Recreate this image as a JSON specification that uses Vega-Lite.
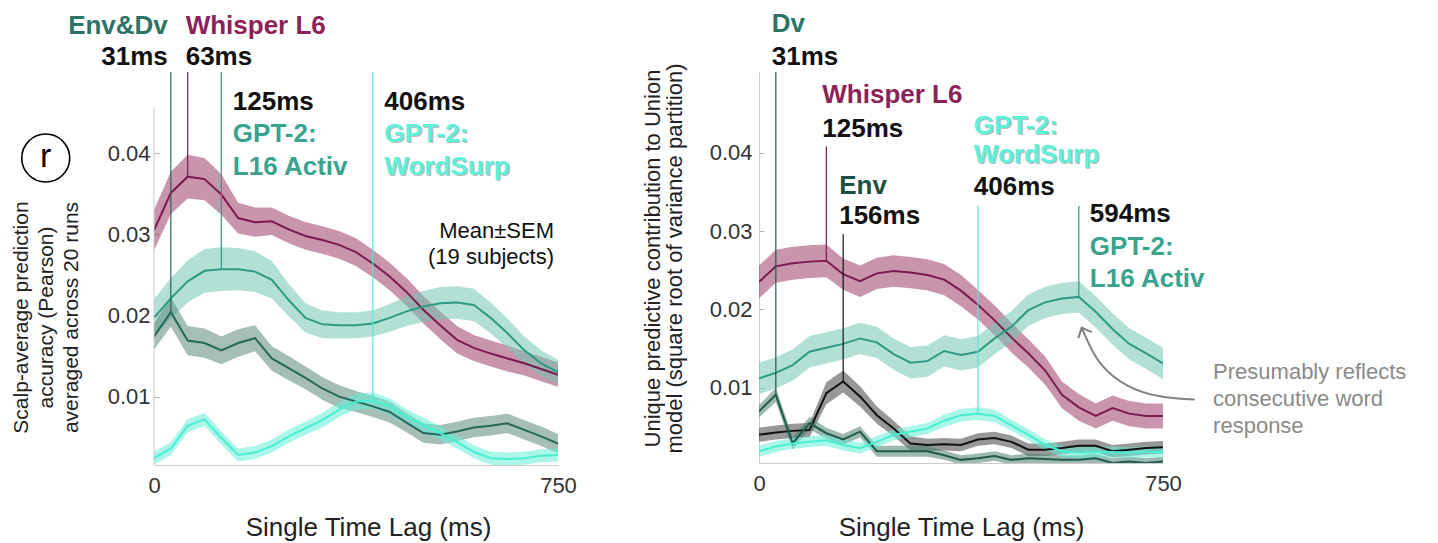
{
  "$schema": "https://vega.github.io/schema/vega-lite/v6.json",
  "background": "white",
  "padding": {"left": 9, "top": 10, "right": 5, "bottom": 5},
  "spacing": 63,
  "config": {
    "view": {"stroke": null},
    "font": "Liberation Sans",
    "axis": {"grid": false, "labelFont": "Liberation Sans", "labelFontSize": 22, "labelColor": "#333333", "titleFont": "Liberation Sans", "titleFontWeight": "normal", "titleColor": "#222222", "domainColor": "#cccccc", "tickColor": "#b0b0b0"}
  },
  "resolve": {"scale": {"x": "independent", "y": "independent"}},
  "datasets": {
    "left": [
      {"lag": 0, "model": "Whisper", "mean": 0.0305, "lo": 0.0280, "hi": 0.0330},
      {"lag": 31.25, "model": "Whisper", "mean": 0.0351, "lo": 0.0325, "hi": 0.0377},
      {"lag": 62.5, "model": "Whisper", "mean": 0.0371, "lo": 0.0344, "hi": 0.0398},
      {"lag": 93.75, "model": "Whisper", "mean": 0.0368, "lo": 0.0342, "hi": 0.0394},
      {"lag": 125, "model": "Whisper", "mean": 0.0349, "lo": 0.0324, "hi": 0.0374},
      {"lag": 156.25, "model": "Whisper", "mean": 0.0320, "lo": 0.0301, "hi": 0.0339},
      {"lag": 187.5, "model": "Whisper", "mean": 0.0315, "lo": 0.0297, "hi": 0.0333},
      {"lag": 218.75, "model": "Whisper", "mean": 0.0316, "lo": 0.0299, "hi": 0.0333},
      {"lag": 250, "model": "Whisper", "mean": 0.0306, "lo": 0.0289, "hi": 0.0323},
      {"lag": 281.25, "model": "Whisper", "mean": 0.0298, "lo": 0.0281, "hi": 0.0315},
      {"lag": 312.5, "model": "Whisper", "mean": 0.0293, "lo": 0.0276, "hi": 0.0310},
      {"lag": 343.75, "model": "Whisper", "mean": 0.0287, "lo": 0.0270, "hi": 0.0304},
      {"lag": 375, "model": "Whisper", "mean": 0.0278, "lo": 0.0261, "hi": 0.0295},
      {"lag": 406.25, "model": "Whisper", "mean": 0.0264, "lo": 0.0247, "hi": 0.0281},
      {"lag": 437.5, "model": "Whisper", "mean": 0.0248, "lo": 0.0231, "hi": 0.0265},
      {"lag": 468.75, "model": "Whisper", "mean": 0.0229, "lo": 0.0212, "hi": 0.0246},
      {"lag": 500, "model": "Whisper", "mean": 0.0207, "lo": 0.0190, "hi": 0.0224},
      {"lag": 531.25, "model": "Whisper", "mean": 0.0188, "lo": 0.0171, "hi": 0.0205},
      {"lag": 562.5, "model": "Whisper", "mean": 0.0170, "lo": 0.0153, "hi": 0.0187},
      {"lag": 593.75, "model": "Whisper", "mean": 0.0160, "lo": 0.0144, "hi": 0.0176},
      {"lag": 625, "model": "Whisper", "mean": 0.0153, "lo": 0.0137, "hi": 0.0169},
      {"lag": 656.25, "model": "Whisper", "mean": 0.0147, "lo": 0.0131, "hi": 0.0163},
      {"lag": 687.5, "model": "Whisper", "mean": 0.0141, "lo": 0.0126, "hi": 0.0156},
      {"lag": 718.75, "model": "Whisper", "mean": 0.0134, "lo": 0.0119, "hi": 0.0149},
      {"lag": 750, "model": "Whisper", "mean": 0.0127, "lo": 0.0112, "hi": 0.0142},
      {"lag": 0, "model": "L16", "mean": 0.0197, "lo": 0.0174, "hi": 0.0220},
      {"lag": 31.25, "model": "L16", "mean": 0.0221, "lo": 0.0196, "hi": 0.0246},
      {"lag": 62.5, "model": "L16", "mean": 0.0242, "lo": 0.0216, "hi": 0.0268},
      {"lag": 93.75, "model": "L16", "mean": 0.0255, "lo": 0.0228, "hi": 0.0282},
      {"lag": 125, "model": "L16", "mean": 0.0257, "lo": 0.0230, "hi": 0.0284},
      {"lag": 156.25, "model": "L16", "mean": 0.0257, "lo": 0.0231, "hi": 0.0283},
      {"lag": 187.5, "model": "L16", "mean": 0.0254, "lo": 0.0229, "hi": 0.0279},
      {"lag": 218.75, "model": "L16", "mean": 0.0244, "lo": 0.0221, "hi": 0.0267},
      {"lag": 250, "model": "L16", "mean": 0.0219, "lo": 0.0199, "hi": 0.0239},
      {"lag": 281.25, "model": "L16", "mean": 0.0197, "lo": 0.0179, "hi": 0.0215},
      {"lag": 312.5, "model": "L16", "mean": 0.0189, "lo": 0.0172, "hi": 0.0206},
      {"lag": 343.75, "model": "L16", "mean": 0.0188, "lo": 0.0172, "hi": 0.0204},
      {"lag": 375, "model": "L16", "mean": 0.0188, "lo": 0.0172, "hi": 0.0204},
      {"lag": 406.25, "model": "L16", "mean": 0.0190, "lo": 0.0174, "hi": 0.0206},
      {"lag": 437.5, "model": "L16", "mean": 0.0197, "lo": 0.0180, "hi": 0.0214},
      {"lag": 468.75, "model": "L16", "mean": 0.0205, "lo": 0.0187, "hi": 0.0223},
      {"lag": 500, "model": "L16", "mean": 0.0211, "lo": 0.0192, "hi": 0.0230},
      {"lag": 531.25, "model": "L16", "mean": 0.0215, "lo": 0.0195, "hi": 0.0235},
      {"lag": 562.5, "model": "L16", "mean": 0.0216, "lo": 0.0196, "hi": 0.0236},
      {"lag": 593.75, "model": "L16", "mean": 0.0213, "lo": 0.0193, "hi": 0.0233},
      {"lag": 625, "model": "L16", "mean": 0.0197, "lo": 0.0178, "hi": 0.0216},
      {"lag": 656.25, "model": "L16", "mean": 0.0178, "lo": 0.0160, "hi": 0.0196},
      {"lag": 687.5, "model": "L16", "mean": 0.0157, "lo": 0.0140, "hi": 0.0174},
      {"lag": 718.75, "model": "L16", "mean": 0.0141, "lo": 0.0125, "hi": 0.0157},
      {"lag": 750, "model": "L16", "mean": 0.0130, "lo": 0.0115, "hi": 0.0145},
      {"lag": 0, "model": "EnvDv", "mean": 0.0174, "lo": 0.0158, "hi": 0.0190},
      {"lag": 31.25, "model": "EnvDv", "mean": 0.0204, "lo": 0.0186, "hi": 0.0222},
      {"lag": 62.5, "model": "EnvDv", "mean": 0.0169, "lo": 0.0151, "hi": 0.0187},
      {"lag": 93.75, "model": "EnvDv", "mean": 0.0166, "lo": 0.0148, "hi": 0.0184},
      {"lag": 125, "model": "EnvDv", "mean": 0.0157, "lo": 0.0140, "hi": 0.0174},
      {"lag": 156.25, "model": "EnvDv", "mean": 0.0166, "lo": 0.0149, "hi": 0.0183},
      {"lag": 187.5, "model": "EnvDv", "mean": 0.0172, "lo": 0.0156, "hi": 0.0188},
      {"lag": 218.75, "model": "EnvDv", "mean": 0.0147, "lo": 0.0132, "hi": 0.0162},
      {"lag": 250, "model": "EnvDv", "mean": 0.0135, "lo": 0.0120, "hi": 0.0150},
      {"lag": 281.25, "model": "EnvDv", "mean": 0.0123, "lo": 0.0109, "hi": 0.0137},
      {"lag": 312.5, "model": "EnvDv", "mean": 0.0110, "lo": 0.0096, "hi": 0.0124},
      {"lag": 343.75, "model": "EnvDv", "mean": 0.0100, "lo": 0.0086, "hi": 0.0114},
      {"lag": 375, "model": "EnvDv", "mean": 0.0094, "lo": 0.0081, "hi": 0.0107},
      {"lag": 406.25, "model": "EnvDv", "mean": 0.0088, "lo": 0.0075, "hi": 0.0101},
      {"lag": 437.5, "model": "EnvDv", "mean": 0.0081, "lo": 0.0068, "hi": 0.0094},
      {"lag": 468.75, "model": "EnvDv", "mean": 0.0068, "lo": 0.0056, "hi": 0.0080},
      {"lag": 500, "model": "EnvDv", "mean": 0.0055, "lo": 0.0043, "hi": 0.0067},
      {"lag": 531.25, "model": "EnvDv", "mean": 0.0053, "lo": 0.0041, "hi": 0.0065},
      {"lag": 562.5, "model": "EnvDv", "mean": 0.0057, "lo": 0.0045, "hi": 0.0069},
      {"lag": 593.75, "model": "EnvDv", "mean": 0.0062, "lo": 0.0050, "hi": 0.0074},
      {"lag": 625, "model": "EnvDv", "mean": 0.0064, "lo": 0.0052, "hi": 0.0076},
      {"lag": 656.25, "model": "EnvDv", "mean": 0.0067, "lo": 0.0055, "hi": 0.0079},
      {"lag": 687.5, "model": "EnvDv", "mean": 0.0059, "lo": 0.0047, "hi": 0.0071},
      {"lag": 718.75, "model": "EnvDv", "mean": 0.0051, "lo": 0.0039, "hi": 0.0063},
      {"lag": 750, "model": "EnvDv", "mean": 0.0042, "lo": 0.0030, "hi": 0.0054},
      {"lag": 0, "model": "WordSurp", "mean": 0.0024, "lo": 0.0016, "hi": 0.0032},
      {"lag": 31.25, "model": "WordSurp", "mean": 0.0036, "lo": 0.0028, "hi": 0.0044},
      {"lag": 62.5, "model": "WordSurp", "mean": 0.0064, "lo": 0.0056, "hi": 0.0072},
      {"lag": 93.75, "model": "WordSurp", "mean": 0.0072, "lo": 0.0064, "hi": 0.0080},
      {"lag": 125, "model": "WordSurp", "mean": 0.0049, "lo": 0.0041, "hi": 0.0057},
      {"lag": 156.25, "model": "WordSurp", "mean": 0.0028, "lo": 0.0020, "hi": 0.0036},
      {"lag": 187.5, "model": "WordSurp", "mean": 0.0031, "lo": 0.0023, "hi": 0.0039},
      {"lag": 218.75, "model": "WordSurp", "mean": 0.0039, "lo": 0.0031, "hi": 0.0047},
      {"lag": 250, "model": "WordSurp", "mean": 0.0051, "lo": 0.0043, "hi": 0.0059},
      {"lag": 281.25, "model": "WordSurp", "mean": 0.0061, "lo": 0.0053, "hi": 0.0069},
      {"lag": 312.5, "model": "WordSurp", "mean": 0.0071, "lo": 0.0062, "hi": 0.0080},
      {"lag": 343.75, "model": "WordSurp", "mean": 0.0084, "lo": 0.0075, "hi": 0.0093},
      {"lag": 375, "model": "WordSurp", "mean": 0.0094, "lo": 0.0084, "hi": 0.0104},
      {"lag": 406.25, "model": "WordSurp", "mean": 0.0095, "lo": 0.0085, "hi": 0.0105},
      {"lag": 437.5, "model": "WordSurp", "mean": 0.0088, "lo": 0.0078, "hi": 0.0098},
      {"lag": 468.75, "model": "WordSurp", "mean": 0.0075, "lo": 0.0066, "hi": 0.0084},
      {"lag": 500, "model": "WordSurp", "mean": 0.0065, "lo": 0.0056, "hi": 0.0074},
      {"lag": 531.25, "model": "WordSurp", "mean": 0.0055, "lo": 0.0047, "hi": 0.0063},
      {"lag": 562.5, "model": "WordSurp", "mean": 0.0044, "lo": 0.0036, "hi": 0.0052},
      {"lag": 593.75, "model": "WordSurp", "mean": 0.0032, "lo": 0.0024, "hi": 0.0040},
      {"lag": 625, "model": "WordSurp", "mean": 0.0024, "lo": 0.0016, "hi": 0.0032},
      {"lag": 656.25, "model": "WordSurp", "mean": 0.0023, "lo": 0.0015, "hi": 0.0031},
      {"lag": 687.5, "model": "WordSurp", "mean": 0.0024, "lo": 0.0016, "hi": 0.0032},
      {"lag": 718.75, "model": "WordSurp", "mean": 0.0027, "lo": 0.0019, "hi": 0.0035},
      {"lag": 750, "model": "WordSurp", "mean": 0.0028, "lo": 0.0020, "hi": 0.0036}
    ],
    "right": [
      {"lag": 0, "model": "Whisper", "mean": 0.0235, "lo": 0.0214, "hi": 0.0256},
      {"lag": 31.25, "model": "Whisper", "mean": 0.0255, "lo": 0.0234, "hi": 0.0276},
      {"lag": 62.5, "model": "Whisper", "mean": 0.0259, "lo": 0.0238, "hi": 0.0280},
      {"lag": 93.75, "model": "Whisper", "mean": 0.0261, "lo": 0.0240, "hi": 0.0282},
      {"lag": 125, "model": "Whisper", "mean": 0.0262, "lo": 0.0241, "hi": 0.0283},
      {"lag": 156.25, "model": "Whisper", "mean": 0.0245, "lo": 0.0225, "hi": 0.0265},
      {"lag": 187.5, "model": "Whisper", "mean": 0.0236, "lo": 0.0216, "hi": 0.0256},
      {"lag": 218.75, "model": "Whisper", "mean": 0.0246, "lo": 0.0226, "hi": 0.0266},
      {"lag": 250, "model": "Whisper", "mean": 0.0249, "lo": 0.0229, "hi": 0.0269},
      {"lag": 281.25, "model": "Whisper", "mean": 0.0247, "lo": 0.0227, "hi": 0.0267},
      {"lag": 312.5, "model": "Whisper", "mean": 0.0244, "lo": 0.0224, "hi": 0.0264},
      {"lag": 343.75, "model": "Whisper", "mean": 0.0238, "lo": 0.0218, "hi": 0.0258},
      {"lag": 375, "model": "Whisper", "mean": 0.0224, "lo": 0.0204, "hi": 0.0244},
      {"lag": 406.25, "model": "Whisper", "mean": 0.0206, "lo": 0.0187, "hi": 0.0225},
      {"lag": 437.5, "model": "Whisper", "mean": 0.0186, "lo": 0.0167, "hi": 0.0205},
      {"lag": 468.75, "model": "Whisper", "mean": 0.0164, "lo": 0.0145, "hi": 0.0183},
      {"lag": 500, "model": "Whisper", "mean": 0.0144, "lo": 0.0126, "hi": 0.0162},
      {"lag": 531.25, "model": "Whisper", "mean": 0.0122, "lo": 0.0104, "hi": 0.0140},
      {"lag": 562.5, "model": "Whisper", "mean": 0.0091, "lo": 0.0074, "hi": 0.0108},
      {"lag": 593.75, "model": "Whisper", "mean": 0.0075, "lo": 0.0058, "hi": 0.0092},
      {"lag": 625, "model": "Whisper", "mean": 0.0064, "lo": 0.0048, "hi": 0.0080},
      {"lag": 656.25, "model": "Whisper", "mean": 0.0074, "lo": 0.0058, "hi": 0.0090},
      {"lag": 687.5, "model": "Whisper", "mean": 0.0067, "lo": 0.0051, "hi": 0.0083},
      {"lag": 718.75, "model": "Whisper", "mean": 0.0064, "lo": 0.0048, "hi": 0.0080},
      {"lag": 750, "model": "Whisper", "mean": 0.0064, "lo": 0.0048, "hi": 0.0080},
      {"lag": 0, "model": "L16", "mean": 0.0112, "lo": 0.0092, "hi": 0.0132},
      {"lag": 31.25, "model": "L16", "mean": 0.0119, "lo": 0.0099, "hi": 0.0139},
      {"lag": 62.5, "model": "L16", "mean": 0.0129, "lo": 0.0109, "hi": 0.0149},
      {"lag": 93.75, "model": "L16", "mean": 0.0146, "lo": 0.0126, "hi": 0.0166},
      {"lag": 125, "model": "L16", "mean": 0.0151, "lo": 0.0131, "hi": 0.0171},
      {"lag": 156.25, "model": "L16", "mean": 0.0156, "lo": 0.0136, "hi": 0.0176},
      {"lag": 187.5, "model": "L16", "mean": 0.0163, "lo": 0.0143, "hi": 0.0183},
      {"lag": 218.75, "model": "L16", "mean": 0.0158, "lo": 0.0138, "hi": 0.0178},
      {"lag": 250, "model": "L16", "mean": 0.0143, "lo": 0.0123, "hi": 0.0163},
      {"lag": 281.25, "model": "L16", "mean": 0.0132, "lo": 0.0112, "hi": 0.0152},
      {"lag": 312.5, "model": "L16", "mean": 0.0134, "lo": 0.0114, "hi": 0.0154},
      {"lag": 343.75, "model": "L16", "mean": 0.0147, "lo": 0.0127, "hi": 0.0167},
      {"lag": 375, "model": "L16", "mean": 0.0142, "lo": 0.0122, "hi": 0.0162},
      {"lag": 406.25, "model": "L16", "mean": 0.0146, "lo": 0.0126, "hi": 0.0166},
      {"lag": 437.5, "model": "L16", "mean": 0.0163, "lo": 0.0143, "hi": 0.0183},
      {"lag": 468.75, "model": "L16", "mean": 0.0178, "lo": 0.0158, "hi": 0.0198},
      {"lag": 500, "model": "L16", "mean": 0.0199, "lo": 0.0179, "hi": 0.0219},
      {"lag": 531.25, "model": "L16", "mean": 0.0209, "lo": 0.0189, "hi": 0.0229},
      {"lag": 562.5, "model": "L16", "mean": 0.0214, "lo": 0.0194, "hi": 0.0234},
      {"lag": 593.75, "model": "L16", "mean": 0.0216, "lo": 0.0196, "hi": 0.0236},
      {"lag": 625, "model": "L16", "mean": 0.0197, "lo": 0.0177, "hi": 0.0217},
      {"lag": 656.25, "model": "L16", "mean": 0.0175, "lo": 0.0155, "hi": 0.0195},
      {"lag": 687.5, "model": "L16", "mean": 0.0156, "lo": 0.0136, "hi": 0.0176},
      {"lag": 718.75, "model": "L16", "mean": 0.0144, "lo": 0.0124, "hi": 0.0164},
      {"lag": 750, "model": "L16", "mean": 0.0131, "lo": 0.0111, "hi": 0.0151},
      {"lag": 0, "model": "Env", "mean": 0.0040, "lo": 0.0031, "hi": 0.0049},
      {"lag": 31.25, "model": "Env", "mean": 0.0043, "lo": 0.0034, "hi": 0.0052},
      {"lag": 62.5, "model": "Env", "mean": 0.0045, "lo": 0.0036, "hi": 0.0054},
      {"lag": 93.75, "model": "Env", "mean": 0.0046, "lo": 0.0037, "hi": 0.0055},
      {"lag": 125, "model": "Env", "mean": 0.0093, "lo": 0.0079, "hi": 0.0107},
      {"lag": 156.25, "model": "Env", "mean": 0.0108, "lo": 0.0094, "hi": 0.0122},
      {"lag": 187.5, "model": "Env", "mean": 0.0089, "lo": 0.0076, "hi": 0.0102},
      {"lag": 218.75, "model": "Env", "mean": 0.0065, "lo": 0.0054, "hi": 0.0076},
      {"lag": 250, "model": "Env", "mean": 0.0048, "lo": 0.0038, "hi": 0.0058},
      {"lag": 281.25, "model": "Env", "mean": 0.0029, "lo": 0.0020, "hi": 0.0038},
      {"lag": 312.5, "model": "Env", "mean": 0.0027, "lo": 0.0019, "hi": 0.0035},
      {"lag": 343.75, "model": "Env", "mean": 0.0028, "lo": 0.0020, "hi": 0.0036},
      {"lag": 375, "model": "Env", "mean": 0.0027, "lo": 0.0019, "hi": 0.0035},
      {"lag": 406.25, "model": "Env", "mean": 0.0034, "lo": 0.0026, "hi": 0.0042},
      {"lag": 437.5, "model": "Env", "mean": 0.0036, "lo": 0.0028, "hi": 0.0044},
      {"lag": 468.75, "model": "Env", "mean": 0.0031, "lo": 0.0023, "hi": 0.0039},
      {"lag": 500, "model": "Env", "mean": 0.0021, "lo": 0.0013, "hi": 0.0029},
      {"lag": 531.25, "model": "Env", "mean": 0.0021, "lo": 0.0013, "hi": 0.0029},
      {"lag": 562.5, "model": "Env", "mean": 0.0023, "lo": 0.0015, "hi": 0.0031},
      {"lag": 593.75, "model": "Env", "mean": 0.0026, "lo": 0.0018, "hi": 0.0034},
      {"lag": 625, "model": "Env", "mean": 0.0026, "lo": 0.0018, "hi": 0.0034},
      {"lag": 656.25, "model": "Env", "mean": 0.0019, "lo": 0.0011, "hi": 0.0027},
      {"lag": 687.5, "model": "Env", "mean": 0.0021, "lo": 0.0013, "hi": 0.0029},
      {"lag": 718.75, "model": "Env", "mean": 0.0023, "lo": 0.0015, "hi": 0.0031},
      {"lag": 750, "model": "Env", "mean": 0.0024, "lo": 0.0016, "hi": 0.0032},
      {"lag": 0, "model": "Dv", "mean": 0.0070, "lo": 0.0062, "hi": 0.0078},
      {"lag": 31.25, "model": "Dv", "mean": 0.0091, "lo": 0.0082, "hi": 0.0100},
      {"lag": 62.5, "model": "Dv", "mean": 0.0029, "lo": 0.0021, "hi": 0.0037},
      {"lag": 93.75, "model": "Dv", "mean": 0.0055, "lo": 0.0047, "hi": 0.0063},
      {"lag": 125, "model": "Dv", "mean": 0.0042, "lo": 0.0035, "hi": 0.0049},
      {"lag": 156.25, "model": "Dv", "mean": 0.0034, "lo": 0.0027, "hi": 0.0041},
      {"lag": 187.5, "model": "Dv", "mean": 0.0044, "lo": 0.0037, "hi": 0.0051},
      {"lag": 218.75, "model": "Dv", "mean": 0.0019, "lo": 0.0012, "hi": 0.0026},
      {"lag": 250, "model": "Dv", "mean": 0.0019, "lo": 0.0012, "hi": 0.0026},
      {"lag": 281.25, "model": "Dv", "mean": 0.0019, "lo": 0.0012, "hi": 0.0026},
      {"lag": 312.5, "model": "Dv", "mean": 0.0019, "lo": 0.0012, "hi": 0.0026},
      {"lag": 343.75, "model": "Dv", "mean": 0.0014, "lo": 0.0008, "hi": 0.0020},
      {"lag": 375, "model": "Dv", "mean": 0.0008, "lo": 0.0002, "hi": 0.0014},
      {"lag": 406.25, "model": "Dv", "mean": 0.0010, "lo": 0.0004, "hi": 0.0016},
      {"lag": 437.5, "model": "Dv", "mean": 0.0013, "lo": 0.0007, "hi": 0.0019},
      {"lag": 468.75, "model": "Dv", "mean": 0.0008, "lo": 0.0002, "hi": 0.0014},
      {"lag": 500, "model": "Dv", "mean": 0.0010, "lo": 0.0004, "hi": 0.0016},
      {"lag": 531.25, "model": "Dv", "mean": 0.0009, "lo": 0.0003, "hi": 0.0015},
      {"lag": 562.5, "model": "Dv", "mean": 0.0008, "lo": 0.0002, "hi": 0.0014},
      {"lag": 593.75, "model": "Dv", "mean": 0.0008, "lo": 0.0002, "hi": 0.0014},
      {"lag": 625, "model": "Dv", "mean": 0.0010, "lo": 0.0004, "hi": 0.0016},
      {"lag": 656.25, "model": "Dv", "mean": 0.0004, "lo": 0.0000, "hi": 0.0010},
      {"lag": 687.5, "model": "Dv", "mean": 0.0006, "lo": 0.0000, "hi": 0.0012},
      {"lag": 718.75, "model": "Dv", "mean": 0.0004, "lo": 0.0000, "hi": 0.0010},
      {"lag": 750, "model": "Dv", "mean": 0.0006, "lo": 0.0000, "hi": 0.0012},
      {"lag": 0, "model": "WordSurp", "mean": 0.0019, "lo": 0.0012, "hi": 0.0026},
      {"lag": 31.25, "model": "WordSurp", "mean": 0.0025, "lo": 0.0018, "hi": 0.0032},
      {"lag": 62.5, "model": "WordSurp", "mean": 0.0029, "lo": 0.0022, "hi": 0.0036},
      {"lag": 93.75, "model": "WordSurp", "mean": 0.0031, "lo": 0.0024, "hi": 0.0038},
      {"lag": 125, "model": "WordSurp", "mean": 0.0033, "lo": 0.0026, "hi": 0.0040},
      {"lag": 156.25, "model": "WordSurp", "mean": 0.0027, "lo": 0.0020, "hi": 0.0034},
      {"lag": 187.5, "model": "WordSurp", "mean": 0.0023, "lo": 0.0016, "hi": 0.0030},
      {"lag": 218.75, "model": "WordSurp", "mean": 0.0031, "lo": 0.0024, "hi": 0.0038},
      {"lag": 250, "model": "WordSurp", "mean": 0.0040, "lo": 0.0033, "hi": 0.0047},
      {"lag": 281.25, "model": "WordSurp", "mean": 0.0044, "lo": 0.0037, "hi": 0.0051},
      {"lag": 312.5, "model": "WordSurp", "mean": 0.0048, "lo": 0.0041, "hi": 0.0055},
      {"lag": 343.75, "model": "WordSurp", "mean": 0.0058, "lo": 0.0050, "hi": 0.0066},
      {"lag": 375, "model": "WordSurp", "mean": 0.0065, "lo": 0.0057, "hi": 0.0073},
      {"lag": 406.25, "model": "WordSurp", "mean": 0.0067, "lo": 0.0059, "hi": 0.0075},
      {"lag": 437.5, "model": "WordSurp", "mean": 0.0064, "lo": 0.0056, "hi": 0.0072},
      {"lag": 468.75, "model": "WordSurp", "mean": 0.0052, "lo": 0.0045, "hi": 0.0059},
      {"lag": 500, "model": "WordSurp", "mean": 0.0040, "lo": 0.0033, "hi": 0.0047},
      {"lag": 531.25, "model": "WordSurp", "mean": 0.0027, "lo": 0.0020, "hi": 0.0034},
      {"lag": 562.5, "model": "WordSurp", "mean": 0.0019, "lo": 0.0012, "hi": 0.0026},
      {"lag": 593.75, "model": "WordSurp", "mean": 0.0017, "lo": 0.0010, "hi": 0.0024},
      {"lag": 625, "model": "WordSurp", "mean": 0.0018, "lo": 0.0011, "hi": 0.0025},
      {"lag": 656.25, "model": "WordSurp", "mean": 0.0018, "lo": 0.0011, "hi": 0.0025},
      {"lag": 687.5, "model": "WordSurp", "mean": 0.0017, "lo": 0.0010, "hi": 0.0024},
      {"lag": 718.75, "model": "WordSurp", "mean": 0.0018, "lo": 0.0011, "hi": 0.0025},
      {"lag": 750, "model": "WordSurp", "mean": 0.0018, "lo": 0.0011, "hi": 0.0025}
    ],
    "leftMarkers": [
      {"lag": 31.25, "top": 0.0500, "bottom": 0.0204, "model": "EnvDv"},
      {"lag": 62.5, "top": 0.0500, "bottom": 0.0371, "model": "Whisper"},
      {"lag": 125, "top": 0.0500, "bottom": 0.0257, "model": "L16"},
      {"lag": 406.25, "top": 0.0500, "bottom": 0.0095, "model": "WordSurp"}
    ],
    "rightMarkers": [
      {"lag": 31.25, "top": 0.0503, "bottom": 0.0091, "model": "Dv"},
      {"lag": 125, "top": 0.0408, "bottom": 0.0262, "model": "Whisper"},
      {"lag": 156.25, "top": 0.0296, "bottom": 0.0108, "model": "Env"},
      {"lag": 406.25, "top": 0.0332, "bottom": 0.0067, "model": "WordSurp"},
      {"lag": 593.75, "top": 0.0332, "bottom": 0.0216, "model": "L16"}
    ],
    "leftAxis": [{"lag": 0, "from": 0.00157, "to": 0.0455}],
    "badge": [{"lag": -201, "level": 0.0394, "label": "r"}],
    "leftText": [
      {"grp": "a", "lag": 31.25, "level": 0.05496, "text": "Env&Dv", "kind": "EnvDv"},
      {"grp": "a", "lag": 31.25, "level": 0.05113, "text": "31ms", "kind": "num"},
      {"grp": "b", "lag": 62.5, "level": 0.05496, "text": "Whisper L6", "kind": "Whisper"},
      {"grp": "b", "lag": 62.5, "level": 0.05113, "text": "63ms", "kind": "num"},
      {"grp": "c", "lag": 125, "level": 0.04559, "text": "125ms", "kind": "num"},
      {"grp": "c", "lag": 125, "level": 0.04164, "text": "GPT-2:", "kind": "L16"},
      {"grp": "c", "lag": 125, "level": 0.03757, "text": "L16 Activ", "kind": "L16"},
      {"grp": "c", "lag": 406.25, "level": 0.04559, "text": "406ms", "kind": "num"},
      {"grp": "c", "lag": 406.25, "level": 0.04164, "text": "GPT-2:", "kind": "WordSurp"},
      {"grp": "c", "lag": 406.25, "level": 0.03757, "text": "WordSurp", "kind": "WordSurp"},
      {"grp": "d", "lag": 750, "level": 0.02968, "text": "Mean±SEM", "kind": "num"},
      {"grp": "d", "lag": 750, "level": 0.02647, "text": "(19 subjects)", "kind": "num"}
    ],
    "rightText": [
      {"grp": "a", "lag": 31.25, "level": 0.05569, "text": "Dv", "kind": "Dv"},
      {"grp": "a", "lag": 31.25, "level": 0.05148, "text": "31ms", "kind": "num"},
      {"grp": "a", "lag": 125, "level": 0.04663, "text": "Whisper L6", "kind": "Whisper"},
      {"grp": "a", "lag": 125, "level": 0.0423, "text": "125ms", "kind": "num"},
      {"grp": "a", "lag": 156.25, "level": 0.03503, "text": "Env", "kind": "Env"},
      {"grp": "a", "lag": 156.25, "level": 0.0312, "text": "156ms", "kind": "num"},
      {"grp": "a", "lag": 406.25, "level": 0.04268, "text": "GPT-2:", "kind": "WordSurp"},
      {"grp": "a", "lag": 406.25, "level": 0.0390, "text": "WordSurp", "kind": "WordSurp"},
      {"grp": "a", "lag": 406.25, "level": 0.0349, "text": "406ms", "kind": "num"},
      {"grp": "b", "lag": 593.75, "level": 0.03145, "text": "594ms", "kind": "num"},
      {"grp": "b", "lag": 593.75, "level": 0.02724, "text": "GPT-2:", "kind": "L16"},
      {"grp": "b", "lag": 593.75, "level": 0.02316, "text": "L16 Activ", "kind": "L16"},
      {"grp": "n", "lag": 843, "level": 0.0113, "text": "Presumably reflects", "kind": "note"},
      {"grp": "n", "lag": 843, "level": 0.00786, "text": "consecutive word", "kind": "note"},
      {"grp": "n", "lag": 843, "level": 0.00441, "text": "response", "kind": "note"}
    ],
    "arrow": [
      {"order": 1, "lag": 809, "level": 0.00849},
      {"order": 2, "lag": 744, "level": 0.00874},
      {"order": 3, "lag": 683, "level": 0.01001},
      {"order": 4, "lag": 633, "level": 0.01274},
      {"order": 5, "lag": 611, "level": 0.01576},
      {"order": 6, "lag": 599, "level": 0.01768}
    ],
    "arrowHead": [{"lag": 599, "level": 0.01768}]
  },
  "hconcat": [
    {
      "width": 404,
      "height": 393,
      "layer": [
        {
          "data": {"name": "left"},
          "mark": {"type": "area", "clip": true, "fillOpacity": 0.55},
          "encoding": {
            "x": {"field": "lag", "type": "quantitative", "scale": {"domain": [0, 750], "nice": false, "zero": false},
              "axis": {"values": [0, 750], "title": "Single Time Lag (ms)", "titleFontSize": 26, "titlePadding": 18, "titleX": 214, "ticks": false, "labelPadding": 10, "labelFontSize": 22, "labelFlush": false}},
            "y": {"field": "lo", "type": "quantitative", "scale": {"domain": [0.00157, 0.05], "nice": false, "zero": false},
              "axis": {"values": [0.01, 0.02, 0.03, 0.04], "format": ".2f", "domain": false, "tickSize": -5, "labelPadding": 9, "labelFontSize": 22,
                "title": ["Scalp-average prediction", "accuracy (Pearson)", "averaged across 20 runs"], "titleFontSize": 21, "titleLineHeight": 25, "titleAngle": -90, "titleAlign": "center", "titleBaseline": "middle", "titleX": -133, "titleY": 245}},
            "y2": {"field": "hi"},
            "fill": {"field": "model", "type": "nominal", "legend": null,
              "scale": {"domain": ["Whisper", "L16", "EnvDv", "WordSurp", "Env", "Dv"], "range": ["#9d3e6a", "#73c7b3", "#5b887a", "#64f0d9", "#444444", "#4d8070"]}}
          }
        },
        {
          "data": {"name": "left"},
          "mark": {"type": "line", "clip": true, "strokeWidth": 2},
          "encoding": {
            "x": {"field": "lag", "type": "quantitative"},
            "y": {"field": "mean", "type": "quantitative"},
            "stroke": {"field": "model", "type": "nominal", "legend": null,
              "scale": {"domain": ["Whisper", "L16", "EnvDv", "WordSurp", "Env", "Dv"], "range": ["#7a1a4e", "#2e9a84", "#26695a", "#4aeed2", "#111111", "#1f5a4c"]}}
          }
        },
        {
          "data": {"name": "leftMarkers"},
          "mark": {"type": "rule", "strokeWidth": 1.2, "clip": false},
          "encoding": {
            "x": {"field": "lag", "type": "quantitative"},
            "y": {"field": "top", "type": "quantitative"},
            "y2": {"field": "bottom"},
            "stroke": {"field": "model", "type": "nominal", "legend": null,
              "scale": {"domain": ["Whisper", "L16", "EnvDv", "WordSurp", "Env", "Dv"], "range": ["#7a1a4e", "#2e9a84", "#26695a", "#4aeed2", "#111111", "#1f5a4c"]}}
          }
        },
        {
          "data": {"name": "leftAxis"},
          "mark": {"type": "rule", "color": "#cccccc", "strokeWidth": 1},
          "encoding": {
            "x": {"field": "lag", "type": "quantitative"},
            "y": {"field": "from", "type": "quantitative"},
            "y2": {"field": "to"}
          }
        },
        {
          "data": {"name": "badge"},
          "mark": {"type": "point", "shape": "circle", "size": 2300, "filled": false, "color": "#000000", "strokeWidth": 1.6, "opacity": 1},
          "encoding": {
            "x": {"field": "lag", "type": "quantitative"},
            "y": {"field": "level", "type": "quantitative"}
          }
        },
        {
          "data": {"name": "badge"},
          "mark": {"type": "text", "fontSize": 34, "align": "center", "baseline": "alphabetic", "dy": 9, "color": "#000000"},
          "encoding": {
            "x": {"field": "lag", "type": "quantitative"},
            "y": {"field": "level", "type": "quantitative"},
            "text": {"field": "label"}
          }
        },
        {
          "data": {"name": "leftText"},
          "transform": [{"filter": "datum.grp == 'a'"}],
          "mark": {"type": "text", "align": "right", "dx": -3, "dy": -6, "fontSize": 26, "fontWeight": "bold"},
          "encoding": {
            "x": {"field": "lag", "type": "quantitative"},
            "y": {"field": "level", "type": "quantitative"},
            "text": {"field": "text"},
            "color": {"field": "kind", "type": "nominal", "legend": null,
              "scale": {"domain": ["Whisper", "L16", "EnvDv", "WordSurp", "Env", "Dv", "num", "note"], "range": ["#8b2359", "#3aa38d", "#2c7566", "#5ef2da", "#1e5044", "#2c7566", "#111111", "#8a8a8a"]}}
          }
        },
        {
          "data": {"name": "leftText"},
          "transform": [{"filter": "datum.grp == 'b'"}],
          "mark": {"type": "text", "align": "left", "dx": -2, "dy": -6, "fontSize": 26, "fontWeight": "bold"},
          "encoding": {
            "x": {"field": "lag", "type": "quantitative"},
            "y": {"field": "level", "type": "quantitative"},
            "text": {"field": "text"},
            "color": {"field": "kind", "type": "nominal", "legend": null,
              "scale": {"domain": ["Whisper", "L16", "EnvDv", "WordSurp", "Env", "Dv", "num", "note"], "range": ["#8b2359", "#3aa38d", "#2c7566", "#5ef2da", "#1e5044", "#2c7566", "#111111", "#8a8a8a"]}}
          }
        },
        {
          "data": {"name": "leftText"},
          "transform": [{"filter": "datum.grp == 'c' && datum.kind == 'WordSurp'"}],
          "mark": {"type": "text", "align": "left", "dx": 13, "dy": -4.5, "fontSize": 26, "fontWeight": "bold", "color": "#bdbdbd"},
          "encoding": {
            "x": {"field": "lag", "type": "quantitative"},
            "y": {"field": "level", "type": "quantitative"},
            "text": {"field": "text"}
          }
        },
        {
          "data": {"name": "leftText"},
          "transform": [{"filter": "datum.grp == 'c'"}],
          "mark": {"type": "text", "align": "left", "dx": 11.5, "dy": -6, "fontSize": 26, "fontWeight": "bold"},
          "encoding": {
            "x": {"field": "lag", "type": "quantitative"},
            "y": {"field": "level", "type": "quantitative"},
            "text": {"field": "text"},
            "color": {"field": "kind", "type": "nominal", "legend": null,
              "scale": {"domain": ["Whisper", "L16", "EnvDv", "WordSurp", "Env", "Dv", "num", "note"], "range": ["#8b2359", "#3aa38d", "#2c7566", "#5ef2da", "#1e5044", "#2c7566", "#111111", "#8a8a8a"]}}
          }
        },
        {
          "data": {"name": "leftText"},
          "transform": [{"filter": "datum.grp == 'd'"}],
          "mark": {"type": "text", "align": "right", "dx": -4, "dy": -6, "fontSize": 22, "fontWeight": "normal"},
          "encoding": {
            "x": {"field": "lag", "type": "quantitative"},
            "y": {"field": "level", "type": "quantitative"},
            "text": {"field": "text"},
            "color": {"field": "kind", "type": "nominal", "legend": null,
              "scale": {"domain": ["Whisper", "L16", "EnvDv", "WordSurp", "Env", "Dv", "num", "note"], "range": ["#8b2359", "#3aa38d", "#2c7566", "#5ef2da", "#1e5044", "#2c7566", "#111111", "#8a8a8a"]}}
          }
        }
      ]
    },
    {
      "width": 404,
      "height": 391,
      "layer": [
        {
          "data": {"name": "right"},
          "mark": {"type": "area", "clip": true, "fillOpacity": 0.55},
          "encoding": {
            "x": {"field": "lag", "type": "quantitative", "scale": {"domain": [0, 750], "nice": false, "zero": false},
              "axis": {"values": [0, 750], "title": "Single Time Lag (ms)", "titleFontSize": 26, "titlePadding": 20, "ticks": false, "labelPadding": 10, "labelFontSize": 22, "labelFlush": false}},
            "y": {"field": "lo", "type": "quantitative", "scale": {"domain": [0.0004, 0.0503], "nice": false, "zero": false},
              "axis": {"values": [0.01, 0.02, 0.03, 0.04], "format": ".2f", "domain": true, "tickSize": -5, "labelPadding": 12, "labelFontSize": 22,
                "title": ["Unique predictive contribution to Union", "model (square root of variance partition)"], "titleFontSize": 22, "titleLineHeight": 22, "titleAngle": -90, "titleAlign": "center", "titleBaseline": "middle", "titleX": -107, "titleY": 186}},
            "y2": {"field": "hi"},
            "fill": {"field": "model", "type": "nominal", "legend": null,
              "scale": {"domain": ["Whisper", "L16", "EnvDv", "WordSurp", "Env", "Dv"], "range": ["#9d3e6a", "#73c7b3", "#5b887a", "#64f0d9", "#444444", "#4d8070"]}}
          }
        },
        {
          "data": {"name": "right"},
          "mark": {"type": "line", "clip": true, "strokeWidth": 2},
          "encoding": {
            "x": {"field": "lag", "type": "quantitative"},
            "y": {"field": "mean", "type": "quantitative"},
            "stroke": {"field": "model", "type": "nominal", "legend": null,
              "scale": {"domain": ["Whisper", "L16", "EnvDv", "WordSurp", "Env", "Dv"], "range": ["#7a1a4e", "#2e9a84", "#26695a", "#4aeed2", "#111111", "#1f5a4c"]}}
          }
        },
        {
          "data": {"name": "rightMarkers"},
          "mark": {"type": "rule", "strokeWidth": 1.2, "clip": false},
          "encoding": {
            "x": {"field": "lag", "type": "quantitative"},
            "y": {"field": "top", "type": "quantitative"},
            "y2": {"field": "bottom"},
            "stroke": {"field": "model", "type": "nominal", "legend": null,
              "scale": {"domain": ["Whisper", "L16", "EnvDv", "WordSurp", "Env", "Dv"], "range": ["#7a1a4e", "#2e9a84", "#26695a", "#4aeed2", "#111111", "#1f5a4c"]}}
          }
        },
        {
          "data": {"name": "arrow"},
          "mark": {"type": "line", "interpolate": "basis", "color": "#808080", "strokeWidth": 2, "clip": false},
          "encoding": {
            "x": {"field": "lag", "type": "quantitative"},
            "y": {"field": "level", "type": "quantitative"},
            "order": {"field": "order", "type": "quantitative"}
          }
        },
        {
          "data": {"name": "arrowHead"},
          "mark": {"type": "point", "shape": "M-0.75,0.85L0,0L0.75,0.85", "size": 380, "filled": false, "stroke": "#808080", "strokeWidth": 2, "opacity": 1, "angle": -24},
          "encoding": {
            "x": {"field": "lag", "type": "quantitative"},
            "y": {"field": "level", "type": "quantitative"}
          }
        },
        {
          "data": {"name": "rightText"},
          "transform": [{"filter": "datum.grp == 'a' && datum.kind == 'WordSurp'"}],
          "mark": {"type": "text", "align": "left", "dx": -2.5, "dy": -4.5, "fontSize": 26, "fontWeight": "bold", "color": "#bdbdbd"},
          "encoding": {
            "x": {"field": "lag", "type": "quantitative"},
            "y": {"field": "level", "type": "quantitative"},
            "text": {"field": "text"}
          }
        },
        {
          "data": {"name": "rightText"},
          "transform": [{"filter": "datum.grp == 'a'"}],
          "mark": {"type": "text", "align": "left", "dx": -4, "dy": -6, "fontSize": 26, "fontWeight": "bold"},
          "encoding": {
            "x": {"field": "lag", "type": "quantitative"},
            "y": {"field": "level", "type": "quantitative"},
            "text": {"field": "text"},
            "color": {"field": "kind", "type": "nominal", "legend": null,
              "scale": {"domain": ["Whisper", "L16", "EnvDv", "WordSurp", "Env", "Dv", "num", "note"], "range": ["#8b2359", "#3aa38d", "#2c7566", "#5ef2da", "#1e5044", "#2c7566", "#111111", "#8a8a8a"]}}
          }
        },
        {
          "data": {"name": "rightText"},
          "transform": [{"filter": "datum.grp == 'b'"}],
          "mark": {"type": "text", "align": "left", "dx": 11, "dy": -6, "fontSize": 26, "fontWeight": "bold"},
          "encoding": {
            "x": {"field": "lag", "type": "quantitative"},
            "y": {"field": "level", "type": "quantitative"},
            "text": {"field": "text"},
            "color": {"field": "kind", "type": "nominal", "legend": null,
              "scale": {"domain": ["Whisper", "L16", "EnvDv", "WordSurp", "Env", "Dv", "num", "note"], "range": ["#8b2359", "#3aa38d", "#2c7566", "#5ef2da", "#1e5044", "#2c7566", "#111111", "#8a8a8a"]}}
          }
        },
        {
          "data": {"name": "rightText"},
          "transform": [{"filter": "datum.grp == 'n'"}],
          "mark": {"type": "text", "align": "left", "dy": -6, "fontSize": 22, "fontWeight": "normal"},
          "encoding": {
            "x": {"field": "lag", "type": "quantitative"},
            "y": {"field": "level", "type": "quantitative"},
            "text": {"field": "text"},
            "color": {"field": "kind", "type": "nominal", "legend": null,
              "scale": {"domain": ["Whisper", "L16", "EnvDv", "WordSurp", "Env", "Dv", "num", "note"], "range": ["#8b2359", "#3aa38d", "#2c7566", "#5ef2da", "#1e5044", "#2c7566", "#111111", "#8a8a8a"]}}
          }
        }
      ]
    }
  ]
}
